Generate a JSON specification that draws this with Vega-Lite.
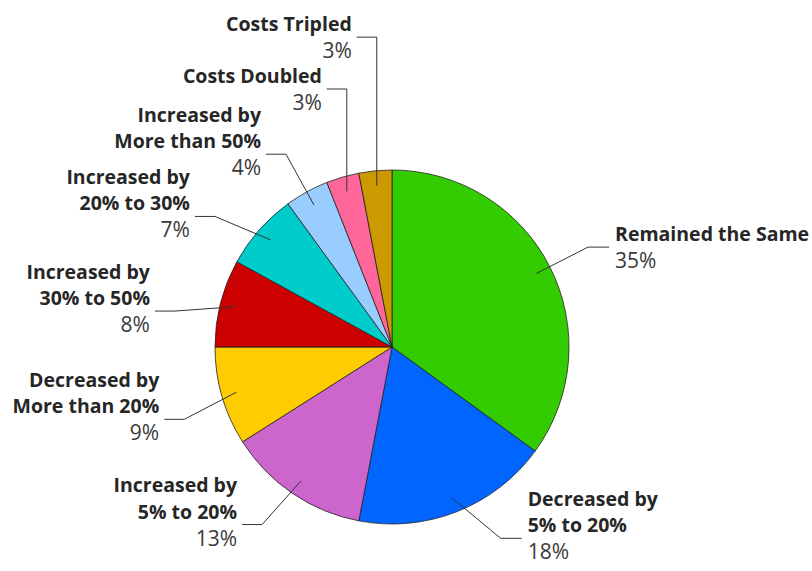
{
  "$schema": "https://vega.github.io/schema/vega-lite/v6.json",
  "width": 812,
  "height": 571,
  "padding": 0,
  "autosize": {"type": "none"},
  "background": "white",
  "config": {"view": {"stroke": null}},
  "data": {
    "values": [
      {"category": "Remained the Same", "pct": 35},
      {"category": "Decreased by 5% to 20%", "pct": 18},
      {"category": "Increased by 5% to 20%", "pct": 13},
      {"category": "Decreased by More than 20%", "pct": 9},
      {"category": "Increased by 30% to 50%", "pct": 8},
      {"category": "Increased by 20% to 30%", "pct": 7},
      {"category": "Increased by More than 50%", "pct": 4},
      {"category": "Costs Doubled", "pct": 3},
      {"category": "Costs Tripled", "pct": 3}
    ]
  },
  "transform": [
    {"window": [{"op": "row_number", "as": "rank"}, {"op": "sum", "field": "pct", "as": "cum"}], "frame": [null, 0]},
    {"calculate": "(datum.cum - datum.pct / 2) / 100 * 2 * PI", "as": "mid"},
    {"calculate": "datum.mid * 180 / PI", "as": "deg"},
    {"calculate": "datum.deg + (datum.deg >= 120 && datum.deg < 180 ? -8 : datum.deg >= 180 && datum.deg < 240 ? 2 : datum.deg >= 240 && datum.deg < 260 ? -3 : datum.deg >= 260 && datum.deg < 325 ? -5 : 0)", "as": "phi"},
    {"calculate": "162 * sin(datum.mid)", "as": "sx"},
    {"calculate": "162 * cos(datum.mid)", "as": "sy"},
    {"calculate": "datum.deg > 337 ? datum.sx : 220 * sin(datum.phi * PI / 180)", "as": "bx"},
    {"calculate": "datum.deg > 337 ? 258 + 4.8 * (datum.deg - 343.8) : 220 * cos(datum.phi * PI / 180)", "as": "by"},
    {"calculate": "datum.bx + (datum.sx >= 0 ? 21 : -20)", "as": "ex"},
    {"calculate": "replace(datum.category, 'by ', 'by\\n')", "as": "name"},
    {"calculate": "datum.by + (indexof(datum.name, '\\n') >= 0 ? 26.5 : 0)", "as": "ny"},
    {"calculate": "datum.pct + '%'", "as": "pctText"},
    {"calculate": "datum.sx >= 0 ? 'right' : 'left'", "as": "side"}
  ],
  "layer": [
    {
      "mark": {"type": "arc", "outerRadius": 177, "stroke": "#222222", "strokeWidth": 0.8},
      "encoding": {
        "x": {"datum": 0, "type": "quantitative", "scale": {"domain": [-392, 420], "nice": false, "zero": false}, "axis": null},
        "y": {"datum": 0, "type": "quantitative", "scale": {"domain": [-224, 347], "nice": false, "zero": false}, "axis": null},
        "theta": {"field": "pct", "type": "quantitative", "stack": true},
        "order": {"field": "rank", "type": "quantitative"},
        "color": {
          "field": "category", "type": "nominal", "legend": null,
          "scale": {
            "domain": ["Remained the Same", "Decreased by 5% to 20%", "Increased by 5% to 20%", "Decreased by More than 20%", "Increased by 30% to 50%", "Increased by 20% to 30%", "Increased by More than 50%", "Costs Doubled", "Costs Tripled"],
            "range": ["#33cc00", "#0066ff", "#cc66cc", "#ffcc00", "#cc0000", "#00cccc", "#99ccff", "#ff6699", "#cc9900"]
          }
        }
      }
    },
    {
      "mark": {"type": "rule", "color": "#333333", "strokeWidth": 1},
      "encoding": {
        "x": {"field": "sx", "type": "quantitative", "scale": {"domain": [-392, 420], "nice": false, "zero": false}, "axis": null},
        "y": {"field": "sy", "type": "quantitative", "scale": {"domain": [-224, 347], "nice": false, "zero": false}, "axis": null},
        "x2": {"field": "bx"},
        "y2": {"field": "by"}
      }
    },
    {
      "mark": {"type": "rule", "color": "#333333", "strokeWidth": 1},
      "encoding": {
        "x": {"field": "bx", "type": "quantitative", "scale": {"domain": [-392, 420], "nice": false, "zero": false}, "axis": null},
        "y": {"field": "by", "type": "quantitative", "scale": {"domain": [-224, 347], "nice": false, "zero": false}, "axis": null},
        "x2": {"field": "ex"},
        "y2": {"field": "by"}
      }
    },
    {
      "transform": [{"filter": "datum.side === 'left'"}],
      "mark": {"type": "text", "align": "right", "baseline": "alphabetic", "dx": -5, "dy": -6, "font": "Open Sans", "fontSize": 19.5, "fontWeight": "bold", "color": "#262626", "lineBreak": "\n", "lineHeight": 26.5},
      "encoding": {
        "x": {"field": "ex", "type": "quantitative", "scale": {"domain": [-392, 420], "nice": false, "zero": false}, "axis": null},
        "y": {"field": "ny", "type": "quantitative", "scale": {"domain": [-224, 347], "nice": false, "zero": false}, "axis": null},
        "text": {"field": "name"}
      }
    },
    {
      "transform": [{"filter": "datum.side === 'right'"}],
      "mark": {"type": "text", "align": "left", "baseline": "alphabetic", "dx": 6, "dy": -6, "font": "Open Sans", "fontSize": 19.5, "fontWeight": "bold", "color": "#262626", "lineBreak": "\n", "lineHeight": 26.5},
      "encoding": {
        "x": {"field": "ex", "type": "quantitative", "scale": {"domain": [-392, 420], "nice": false, "zero": false}, "axis": null},
        "y": {"field": "ny", "type": "quantitative", "scale": {"domain": [-224, 347], "nice": false, "zero": false}, "axis": null},
        "text": {"field": "name"}
      }
    },
    {
      "transform": [{"filter": "datum.side === 'left'"}],
      "mark": {"type": "text", "align": "right", "baseline": "alphabetic", "dx": -5, "dy": 21, "font": "Open Sans", "fontSize": 21, "color": "#3a3a3a"},
      "encoding": {
        "x": {"field": "ex", "type": "quantitative", "scale": {"domain": [-392, 420], "nice": false, "zero": false}, "axis": null},
        "y": {"field": "by", "type": "quantitative", "scale": {"domain": [-224, 347], "nice": false, "zero": false}, "axis": null},
        "text": {"field": "pctText"}
      }
    },
    {
      "transform": [{"filter": "datum.side === 'right'"}],
      "mark": {"type": "text", "align": "left", "baseline": "alphabetic", "dx": 6, "dy": 21, "font": "Open Sans", "fontSize": 21, "color": "#3a3a3a"},
      "encoding": {
        "x": {"field": "ex", "type": "quantitative", "scale": {"domain": [-392, 420], "nice": false, "zero": false}, "axis": null},
        "y": {"field": "by", "type": "quantitative", "scale": {"domain": [-224, 347], "nice": false, "zero": false}, "axis": null},
        "text": {"field": "pctText"}
      }
    }
  ]
}
